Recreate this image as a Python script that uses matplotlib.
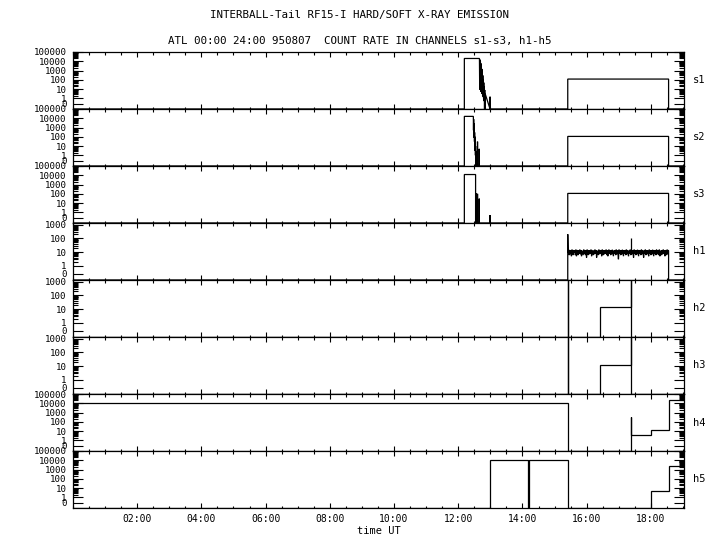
import numpy as np
import matplotlib
matplotlib.use("Agg")
import matplotlib.pyplot as plt
from matplotlib.ticker import FixedLocator, FixedFormatter, NullFormatter, MultipleLocator

FONT = "DejaVu Sans Mono"

title = "INTERBALL-Tail RF15-I HARD/SOFT X-RAY EMISSION"
subtitle = "ATL 00:00 24:00 950807  COUNT RATE IN CHANNELS s1-s3, h1-h5"
xlabel = "time UT"
channels = ["s1", "s2", "s3", "h1", "h2", "h3", "h4", "h5"]

x_ticks = [2, 4, 6, 8, 10, 12, 14, 16, 18]
x_ticklabels = ["02:00", "04:00", "06:00", "08:00", "10:00", "12:00", "14:00", "16:00", "18:00"]

y_ticks_wide = [0, 1, 10, 100, 1000, 10000, 100000]
y_labels_wide = ["0", "1", "10", "100", "1000", "10000", "100000"]
y_ticks_narrow = [0, 1, 10, 100, 1000]
y_labels_narrow = ["0", "1", "10", "100", "1000"]

# ---- data (time in hours UT, count rate) ----
s1_t = [0.0, 12.19, 12.19, 12.66, 12.668, 12.675, 12.683, 12.69, 12.698, 12.705, 12.713, 12.72,
        12.728, 12.735, 12.743, 12.75, 12.758, 12.765, 12.773, 12.78, 12.788, 12.795, 12.803,
        12.81, 12.818, 12.825, 12.833, 12.84, 12.99, 12.99, 12.99, 15.41, 15.41, 18.55, 18.55, 19.03]
s1_v = [0, 0, 20000, 20000, 10, 15000, 8, 10000, 6, 6000, 5, 3000, 4, 1500, 3, 700, 2, 300,
        1.5, 120, 1, 50, 0.5, 20, 0, 8, 0, 3, 0, 1.5, 0, 0, 120, 120, 0, 0]

s2_t = [0.0, 12.19, 12.19, 12.47, 12.475, 12.48, 12.485, 12.49, 12.495, 12.50, 12.505, 12.51,
        12.515, 12.52, 12.525, 12.53, 12.535, 12.54, 12.545, 12.55, 12.555, 12.60, 12.60, 12.60,
        12.655, 12.655, 12.655, 15.41, 15.41, 18.55, 18.55, 19.03]
s2_v = [0, 0, 16000, 16000, 500, 8000, 200, 3000, 80, 1000, 30, 300, 10, 100, 3, 30, 1, 10,
        0, 3, 0, 0, 30, 0, 0, 5, 0, 0, 110, 110, 0, 0]

s3_t = [0.0, 12.19, 12.19, 12.54, 12.54, 12.55, 12.55, 12.555, 12.56, 12.565, 12.60, 12.60,
        12.60, 12.655, 12.655, 12.655, 12.99, 12.99, 12.99, 15.41, 15.41, 18.55, 18.55, 19.03]
s3_v = [0, 0, 12000, 12000, 0, 0, 120, 5, 80, 0, 0, 100, 0, 0, 30, 0, 0, 0.5, 0, 0, 110, 110, 0, 0]

h1_noise = [
    9, 15, 6, 14, 7, 13, 5, 15, 8, 6, 14, 9, 13, 6, 15, 5, 10, 14, 6, 13,
    8, 15, 7, 14, 5, 13, 9, 6, 15, 8, 14, 6, 13, 4, 15, 9, 6, 14, 7, 13,
    8, 15, 5, 14, 9, 6, 13, 7, 15, 8, 14, 4, 13, 9, 6, 15, 7, 14, 8, 13,
    5, 15, 9, 6, 14, 7, 13, 8, 15, 6, 14, 5, 10, 15, 8, 13, 6, 14, 7, 15,
    9, 5, 13, 8, 14, 6, 15, 7, 13, 9, 3, 15, 8, 14, 6, 13, 7, 15, 9, 5,
    14, 8, 13, 6, 15, 7, 14, 9, 5, 13, 8, 15, 6, 14, 7, 13, 9, 4, 15, 8,
    14, 6, 13, 7, 15, 9, 5, 14, 8, 13, 6, 15, 7, 14, 9, 4, 13, 8, 15, 6,
    14, 7, 13, 9, 5, 15, 8, 14, 6, 13, 7, 15, 9, 5, 14, 8, 13, 6, 15, 7,
    8, 14, 6, 15, 5, 13, 9, 6, 14, 7, 15, 8, 13, 5, 14, 9, 6, 15, 7, 13]
h1_start, h1_end = 15.41, 18.55
h1_jump = 200
h1_spike_t = [17.39]
h1_spike_v = [100]

h2_t = [0.0, 15.41, 15.41, 15.41, 16.40, 16.40, 17.39, 17.39, 17.39, 19.03]
h2_v = [0, 0, 3000, 0, 0, 15, 15, 3000, 0, 0]

h3_t = [0.0, 15.41, 15.41, 15.41, 16.40, 16.40, 17.39, 17.39, 17.39, 19.03]
h3_v = [0, 0, 3000, 0, 0, 13, 13, 3000, 0, 0]

h4_t = [0.0, 15.41, 15.41, 17.39, 17.39, 17.39, 18.00, 18.00, 18.55, 18.55, 19.03]
h4_v = [12000, 12000, 0, 0, 300, 4, 4, 12, 12, 20000, 20000]

h5_t = [0.0, 12.99, 12.99, 14.16, 14.16, 14.20, 14.20, 15.41, 15.41, 18.00, 18.00, 18.55, 18.55, 19.03]
h5_v = [0, 0, 12000, 12000, 0, 0, 12000, 12000, 0, 0, 5, 5, 2500, 2500]

# ---- figure ----
W, H = 720, 550
fig = plt.figure(figsize=(W / 100, H / 100), dpi=100)
left_px, right_px, top_px, bot_px = 72.9, 684.0, 52.0, 508.0
gs = fig.add_gridspec(8, 1, left=left_px / W, right=right_px / W,
                      top=1 - top_px / H, bottom=1 - bot_px / H, hspace=0)

XMAX = 19.03
LW = 0.9

h1_t = [0.0, h1_start, h1_start] + list(np.linspace(h1_start + 0.01, h1_end - 0.01, len(h1_noise))) + [h1_end, h1_end, XMAX]
h1_v = [0, 0, h1_jump] + h1_noise + [h1_noise[-1], 0, 0]

series = {
    "s1": (s1_t, s1_v), "s2": (s2_t, s2_v), "s3": (s3_t, s3_v), "h1": (h1_t, h1_v),
    "h2": (h2_t, h2_v), "h3": (h3_t, h3_v), "h4": (h4_t, h4_v), "h5": (h5_t, h5_v),
}

wide_minor = [k * 10 ** e for e in range(0, 5) for k in range(2, 10)]
narrow_minor = [k * 10 ** e for e in range(0, 3) for k in range(2, 10)]

for i, name in enumerate(channels):
    ax = fig.add_subplot(gs[i, 0])
    wide = name not in ("h1", "h2", "h3")
    ax.set_yscale("symlog", linthresh=1, linscale=0.54)
    if wide:
        ylo, yhi = -0.92, 100000
        ticks, labels, minor = y_ticks_wide, y_labels_wide, wide_minor
    else:
        ylo, yhi = -0.73, 1320
        ticks, labels, minor = y_ticks_narrow, y_labels_narrow, narrow_minor
    t, v = series[name]
    v = np.asarray(v, dtype=float)
    vv = np.where(v > 0, v, ylo)
    ax.plot(t, vv, color="black", lw=LW, solid_joinstyle="miter")
    if name == "h1":
        ax.vlines(h1_spike_t, 8, h1_spike_v, color="black", lw=LW)
    ax.set_ylim(ylo, yhi)
    ax.set_xlim(0, XMAX)
    ax.yaxis.set_major_locator(FixedLocator(ticks))
    ax.yaxis.set_major_formatter(FixedFormatter(labels))
    ax.yaxis.set_minor_locator(FixedLocator(minor))
    ax.yaxis.set_minor_formatter(NullFormatter())
    ax.xaxis.set_major_locator(FixedLocator(x_ticks))
    ax.xaxis.set_minor_locator(MultipleLocator(0.5))
    ax.tick_params(axis="y", which="major", direction="in", left=True, right=True,
                   length=7.0, width=0.8, pad=4.5, labelsize=6.6)
    ax.tick_params(axis="y", which="minor", direction="in", left=True, right=True,
                   length=3.6, width=0.8)
    ax.tick_params(axis="x", which="major", direction="in", top=True, bottom=True,
                   length=3.6, width=0.8, pad=4.5, labelsize=7)
    ax.tick_params(axis="x", which="minor", direction="in", top=True, bottom=True,
                   length=1.8, width=0.8)
    for lab in ax.get_yticklabels():
        lab.set_family(FONT)
    for sp in ax.spines.values():
        sp.set_linewidth(0.9)
    if i == len(channels) - 1:
        ax.set_xticklabels(x_ticklabels, family=FONT)
        ax.set_xlabel(xlabel, family=FONT, fontsize=7.5, labelpad=1.5)
    else:
        ax.set_xticklabels([])
    ax.text(1.015, 0.5, name, transform=ax.transAxes, ha="left", va="center",
            family=FONT, fontsize=7.5)

fig.text(0.5, 1 - 15 / H, title, ha="center", va="center", family=FONT, fontsize=7.8)
fig.text(0.5, 1 - 41 / H, subtitle, ha="center", va="center", family=FONT, fontsize=7.8)

fig.savefig("out.png", dpi=100)
